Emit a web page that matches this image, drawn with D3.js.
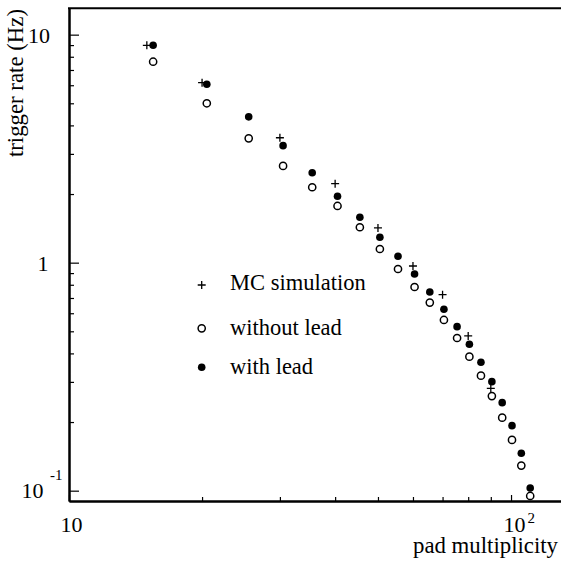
<!DOCTYPE html>
<html>
<head>
<meta charset="utf-8">
<script src="https://cdn.jsdelivr.net/npm/d3@7"></script>
<style>
  html, body { margin: 0; padding: 0; background: #fff; }
  svg { display: block; }
  text { font-family: "Liberation Serif", "DejaVu Serif", serif; fill: #000; }
</style>
</head>
<body>
<svg id="chart" width="561" height="561"></svg>
<script>
// ---- data ----
const padMultiplicity = [15.5, 20.5, 25.5, 30.5, 35.5, 40.5, 45.5, 50.5, 55.5, 60.5,
                         65.5, 70.5, 75.5, 80.5, 85.5, 90.5, 95.5, 100.5, 105.5, 110.5];
const rateWithLead    = [8.98, 6.06, 4.36, 3.26, 2.48, 1.955, 1.582, 1.292, 1.067, 0.892,
                         0.744, 0.6245, 0.524, 0.4386, 0.3658, 0.3007, 0.2432, 0.1928, 0.146, 0.1027];
const rateWithoutLead = [7.61, 5.0, 3.51, 2.656, 2.142, 1.773, 1.43, 1.148, 0.938, 0.782,
                         0.668, 0.5607, 0.4674, 0.387, 0.3195, 0.260, 0.209, 0.167, 0.1288, 0.0948];
const mcMultiplicity  = [15, 20, 30, 40, 50, 60, 70, 80, 90];
const rateMC          = [8.98, 6.16, 3.53, 2.22, 1.42, 0.967, 0.724, 0.477, 0.281];

const xMinorTicks = [20, 30, 40, 50, 60, 70, 80, 90];
const xMajorTicks = [10, 100];
const yMajorTicks = [0.1, 1, 10];
const yMinorTicks = [0.2, 0.3, 0.4, 0.5, 0.6, 0.7, 0.8, 0.9,
                     2, 3, 4, 5, 6, 7, 8, 9];
const legendLabels = ["MC simulation", "without lead", "with lead"];
const xTitle = "pad multiplicity";
const yTitle = "trigger rate (Hz)";

// ---- layout ----
const svg = d3.select("#chart");
const padL = 69, padR = 561.4, padT = 8.3, padB = 501;

const x = d3.scaleLog().domain([10, 130]).range([padL, padR]);
const y = d3.scaleLog().domain([0.0901, 13.05]).range([padB, padT]);

svg.append("rect").attr("width", 561).attr("height", 561).attr("fill", "#fff");

// axes (ticks inward)
const yAxisMajor = d3.axisRight(y).tickValues(yMajorTicks).tickSize(10).tickFormat("").tickSizeOuter(0);
const yAxisMinor = d3.axisRight(y).tickValues(yMinorTicks).tickSize(5).tickFormat("").tickSizeOuter(0);
const xAxisMajor = d3.axisTop(x).tickValues(xMajorTicks).tickSize(6).tickFormat("").tickSizeOuter(0);
const xAxisMinor = d3.axisTop(x).tickValues(xMinorTicks).tickSize(4).tickFormat("").tickSizeOuter(0);

function styleAxis(g) {
  g.selectAll("path.domain").attr("stroke", "#000").attr("stroke-width", 2);
  g.selectAll(".tick line").attr("stroke", "#000").attr("stroke-width", 1.2);
}
svg.append("g").attr("transform", `translate(${padL},0)`).call(yAxisMinor).call(styleAxis);
svg.append("g").attr("transform", `translate(${padL},0)`).call(yAxisMajor).call(styleAxis);
svg.append("g").attr("transform", `translate(0,${padB})`).call(xAxisMinor).call(styleAxis);
svg.append("g").attr("transform", `translate(0,${padB})`).call(xAxisMajor).call(styleAxis);

// top frame line
svg.append("line")
  .attr("x1", padL - 1).attr("x2", 561).attr("y1", padT).attr("y2", padT)
  .attr("stroke", "#000").attr("stroke-width", 2);

// ---- tick labels ----
const fs = 22, sup = 15, fsTitle = 22.8, fsLegend = 22.5;
// y labels
svg.append("text").attr("x", 50).attr("y", y(10) + 8.5).attr("text-anchor", "end")
  .attr("font-size", fs).text("10");
svg.append("text").attr("x", 48.5).attr("y", y(1) + 8.5).attr("text-anchor", "end")
  .attr("font-size", fs).text("1");
svg.append("text").attr("x", 43.5).attr("y", y(0.1) + 7.5).attr("text-anchor", "end")
  .attr("font-size", fs).text("10");
svg.append("text").attr("x", 50).attr("y", y(0.1) - 11).attr("text-anchor", "start")
  .attr("font-size", sup).text("-1");
// x labels
svg.append("text").attr("x", x(10) + 2.5).attr("y", 531.5).attr("text-anchor", "middle")
  .attr("font-size", fs).text("10");
svg.append("text").attr("x", x(100) + 14.5).attr("y", 532).attr("text-anchor", "end")
  .attr("font-size", fs).text("10");
svg.append("text").attr("x", x(100) + 16.5).attr("y", 522.5).attr("text-anchor", "start")
  .attr("font-size", sup).text("2");

// titles
svg.append("text").attr("x", 558).attr("y", 552.5).attr("text-anchor", "end")
  .attr("font-size", fsTitle).text(xTitle);
svg.append("text").attr("transform", "translate(22.5,9) rotate(-90)")
  .attr("text-anchor", "end").attr("font-size", fsTitle).text(yTitle);

// ---- markers ----
const plusPath = (s) => `M${-s},0H${s}M0,${-s}V${s}`;

svg.append("g").selectAll("path").data(mcMultiplicity).join("path")
  .attr("transform", (d, i) => `translate(${x(d)},${y(rateMC[i])})`)
  .attr("d", plusPath(4))
  .attr("stroke", "#000").attr("stroke-width", 1.3).attr("fill", "none");

svg.append("g").selectAll("circle").data(padMultiplicity).join("circle")
  .attr("cx", d => x(d)).attr("cy", (d, i) => y(rateWithoutLead[i]))
  .attr("r", 3.6).attr("fill", "#fff").attr("stroke", "#000").attr("stroke-width", 1.5);

svg.append("g").selectAll("circle").data(padMultiplicity).join("circle")
  .attr("cx", d => x(d)).attr("cy", (d, i) => y(rateWithLead[i]))
  .attr("r", 3.8).attr("fill", "#000");

// ---- legend ----
const lgX = 201.7, lgText = 230;
const lgY = [285, 328.3, 367.3];
const lgBase = [290, 335, 374];
const lg = svg.append("g");
lg.append("path").attr("transform", `translate(${lgX},${lgY[0]})`).attr("d", plusPath(4))
  .attr("stroke", "#000").attr("stroke-width", 1.3).attr("fill", "none");
lg.append("circle").attr("cx", lgX).attr("cy", lgY[1]).attr("r", 3.6)
  .attr("fill", "#fff").attr("stroke", "#000").attr("stroke-width", 1.5);
lg.append("circle").attr("cx", lgX).attr("cy", lgY[2]).attr("r", 3.8).attr("fill", "#000");
lg.selectAll("text").data(legendLabels).join("text")
  .attr("x", lgText).attr("y", (d, i) => lgBase[i]).attr("font-size", fsLegend).text(d => d);
</script>
</body>
</html>
